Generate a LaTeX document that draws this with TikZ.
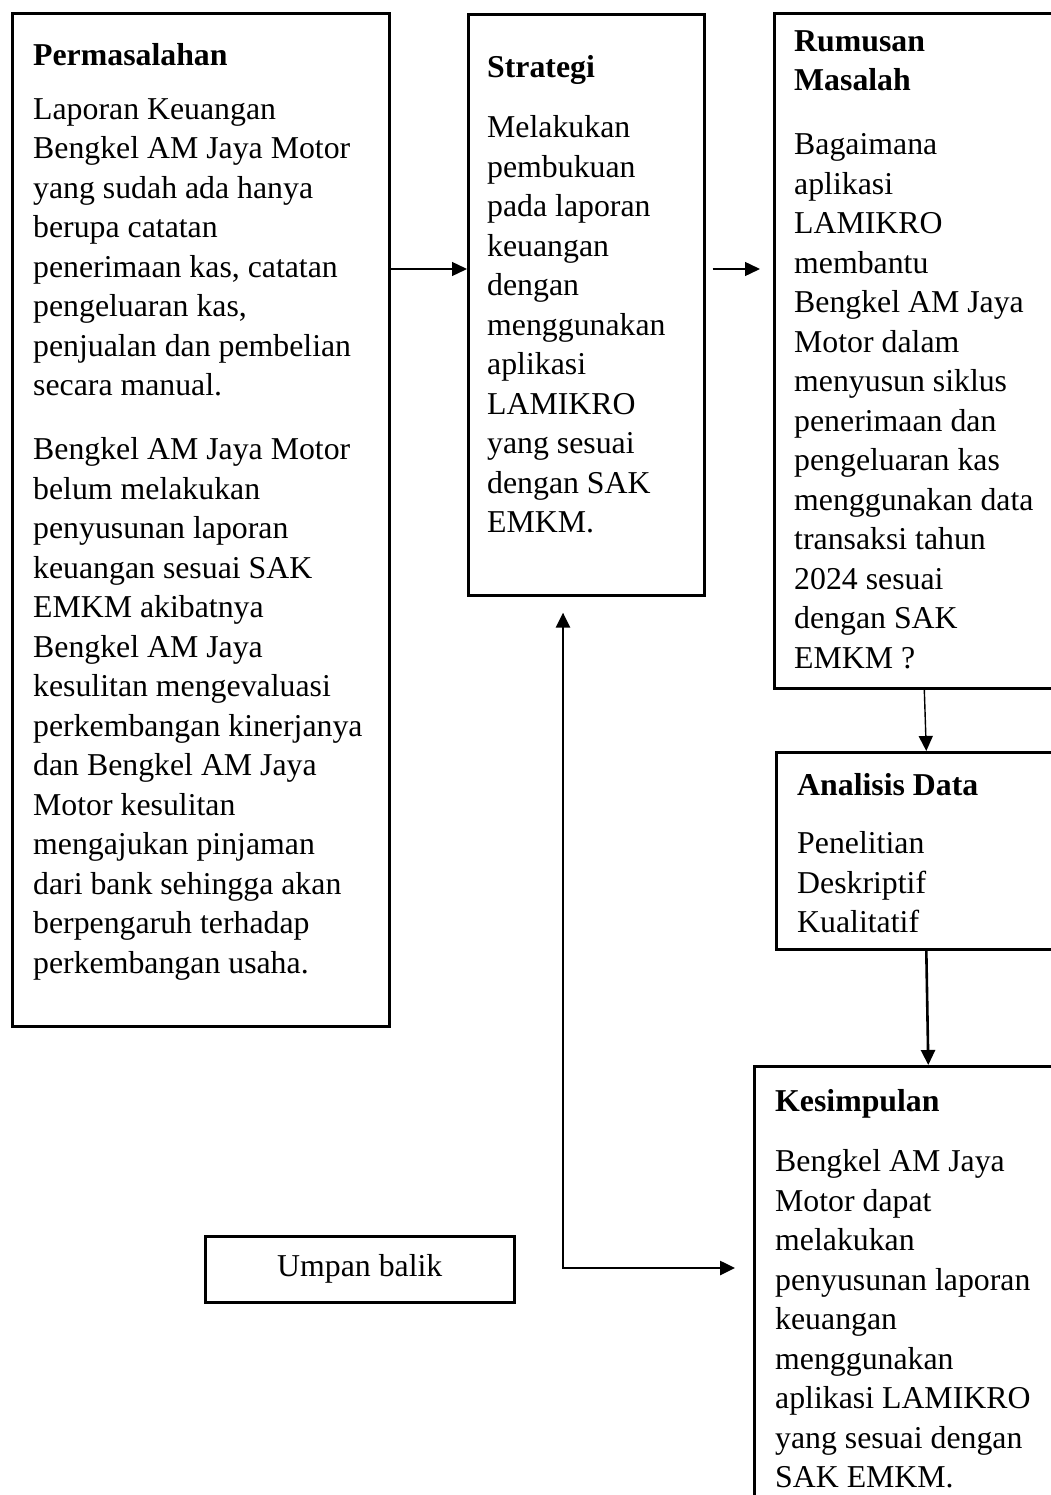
\documentclass[tikz,border=0pt]{standalone}
\usepackage{fontspec}
\setmainfont{Liberation Serif}
\usetikzlibrary{arrows.meta}
\tikzset{
  box/.style={draw, line width=2.6pt, inner sep=0pt, anchor=north west},
  txt/.style={anchor=north west, yshift=27.65pt, align=left, inner sep=0pt, font=\fontsize{31.8}{39.5}\selectfont, execute at begin node=\strut},
  head/.style={txt, font=\bfseries\fontsize{31.8}{39.5}\selectfont},
  arr/.style={-{Triangle[length=15pt,width=14pt]}, line width=1.4pt},
  arrthick/.style={-{Triangle[length=15pt,width=14pt]}, line width=2.6pt},
  fbarr/.style={{Triangle[length=15pt,width=14pt]}-{Triangle[length=15pt,width=14pt]}, line width=2.6pt}
}
\begin{document}
\begin{tikzpicture}[x=1pt,y=-1pt]
\useasboundingbox (0,0) rectangle (1051,1495);
\clip (0,0) rectangle (1051,1495);
\fill[white] (0,0) rectangle (1051,1495);

% boxes
\node[box, minimum width=377pt, minimum height=1013pt] (perm) at (11,12) {};
\node[box, minimum width=236pt, minimum height=581pt] (strat) at (467,13) {};
\node[box, minimum width=300pt, minimum height=675pt] (rum) at (773,12) {};
\node[box, minimum width=300pt, minimum height=197pt] (ana) at (775,751) {};
\node[box, minimum width=348pt, minimum height=500pt] (kes) at (753,1065) {};
\node[box, minimum width=309pt, minimum height=66pt, font=\fontsize{31.8}{39.5}\selectfont] (umpan) at (204,1235) {Umpan balik};

% texts (coordinates are first-line baselines)
\node[head] (permh) at (33,65) {Permasalahan};
\node[txt] (permt) at (33,126) {Laporan Keuangan\\
Bengkel AM Jaya Motor\\
yang sudah ada hanya\\
berupa catatan\\
penerimaan kas, catatan\\
pengeluaran kas,\\
penjualan dan pembelian\\
secara manual.\\[24.5pt]
Bengkel AM Jaya Motor\\
belum melakukan\\
penyusunan laporan\\
keuangan sesuai SAK\\
EMKM akibatnya\\
Bengkel AM Jaya\\
kesulitan mengevaluasi\\
perkembangan kinerjanya\\
dan Bengkel AM Jaya\\
Motor kesulitan\\
mengajukan pinjaman\\
dari bank sehingga akan\\
berpengaruh terhadap\\
perkembangan usaha.};

\node[head] (strath) at (487,77) {Strategi};
\node[txt] (stratt) at (487,143) {Melakukan\\
pembukuan\\
pada laporan\\
keuangan\\
dengan\\
menggunakan\\
aplikasi\\
LAMIKRO\\
yang sesuai\\
dengan SAK\\
EMKM.};

\node[head] (rumh) at (794,58) {Rumusan\\Masalah};
\node[txt] (rumt) at (794,161) {Bagaimana\\
aplikasi\\
LAMIKRO\\
membantu\\
Bengkel AM Jaya\\
Motor dalam\\
menyusun siklus\\
penerimaan dan\\
pengeluaran kas\\
menggunakan data\\
transaksi tahun\\
2024 sesuai\\
dengan SAK\\
EMKM ?};

\node[head] (anah) at (797,795) {Analisis Data};
\node[txt] (anat) at (797,859) {Penelitian\\
Deskriptif\\
Kualitatif};

\node[head] (kesh) at (775,1111) {Kesimpulan};
\node[txt] (kest) at (775,1177) {Bengkel AM Jaya\\
Motor dapat\\
melakukan\\
penyusunan laporan\\
keuangan\\
menggunakan\\
aplikasi LAMIKRO\\
yang sesuai dengan\\
SAK EMKM.};

% connectors
\coordinate (r1) at (0,269);
\coordinate (fb) at (563,1268);
\draw[arr] (perm.east |- r1) -- (strat.west |- r1);
\draw[arr, shorten <=7pt, shorten >=13pt] (strat.east |- r1) -- (rum.west |- r1);
\draw[arr] (rum.south) -- (ana.north);
\draw[arrthick] (ana.south) -- (kes.north);
\draw[fbarr, shorten <=16pt, shorten >=18pt] (fb |- strat.south) -- (fb) -- (kes.west |- fb);
\end{tikzpicture}
\end{document}
